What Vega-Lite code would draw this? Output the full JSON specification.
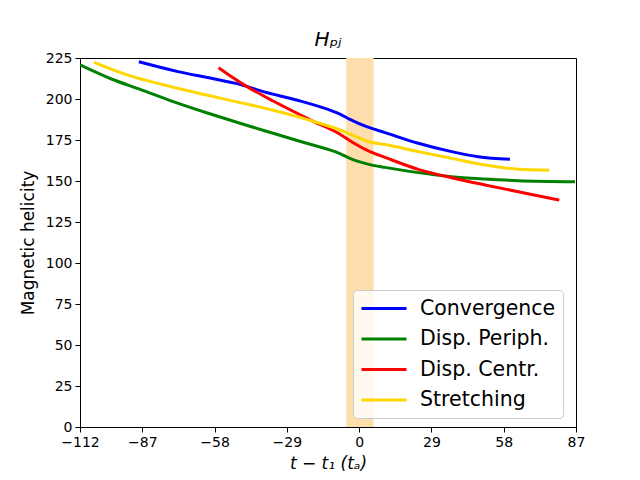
{
  "$schema": "https://vega.github.io/schema/vega-lite/v6.json",
  "width": 496,
  "height": 369,
  "autosize": "none",
  "padding": {"left": 80, "top": 58, "right": 64, "bottom": 53},
  "background": "white",
  "title": {
    "text": "Hₚⱼ",
    "font": "DejaVu Sans",
    "fontStyle": "italic",
    "fontWeight": "normal",
    "fontSize": 20,
    "color": "black",
    "anchor": "middle",
    "offset": 1
  },
  "datasets": {
    "band": [{"t0": -5.2, "t1": 5.8}],
    "curves": [
      {"series": "Convergence", "t": -88.4, "h": 222.7},
      {"series": "Convergence", "t": -72.7, "h": 216.7},
      {"series": "Convergence", "t": -59.3, "h": 212.6},
      {"series": "Convergence", "t": -48.6, "h": 209.2},
      {"series": "Convergence", "t": -38.5, "h": 204.5},
      {"series": "Convergence", "t": -25.1, "h": 199.4},
      {"series": "Convergence", "t": -11.7, "h": 193.2},
      {"series": "Convergence", "t": -7.7, "h": 190.8},
      {"series": "Convergence", "t": -3.7, "h": 187.6},
      {"series": "Convergence", "t": 3, "h": 183.1},
      {"series": "Convergence", "t": 10.4, "h": 179.5},
      {"series": "Convergence", "t": 23.7, "h": 173},
      {"series": "Convergence", "t": 37.1, "h": 167.9},
      {"series": "Convergence", "t": 47.8, "h": 164.8},
      {"series": "Convergence", "t": 60.5, "h": 163.2},
      {"series": "Disp. Periph.", "t": -112, "h": 220.8},
      {"series": "Disp. Periph.", "t": -99.4, "h": 212.2},
      {"series": "Disp. Periph.", "t": -87.9, "h": 205.9},
      {"series": "Disp. Periph.", "t": -74.6, "h": 198.4},
      {"series": "Disp. Periph.", "t": -61.2, "h": 191.6},
      {"series": "Disp. Periph.", "t": -47.8, "h": 185.2},
      {"series": "Disp. Periph.", "t": -34.5, "h": 179.1},
      {"series": "Disp. Periph.", "t": -21.1, "h": 173},
      {"series": "Disp. Periph.", "t": -7.7, "h": 166.7},
      {"series": "Disp. Periph.", "t": -3.7, "h": 163.8},
      {"series": "Disp. Periph.", "t": 4.3, "h": 160},
      {"series": "Disp. Periph.", "t": 10.4, "h": 158.3},
      {"series": "Disp. Periph.", "t": 23.7, "h": 155.1},
      {"series": "Disp. Periph.", "t": 37.1, "h": 152.6},
      {"series": "Disp. Periph.", "t": 50.5, "h": 151.2},
      {"series": "Disp. Periph.", "t": 63.8, "h": 150.2},
      {"series": "Disp. Periph.", "t": 86.6, "h": 149.6},
      {"series": "Disp. Centr.", "t": -56.4, "h": 219.1},
      {"series": "Disp. Centr.", "t": -51.8, "h": 214.2},
      {"series": "Disp. Centr.", "t": -43.8, "h": 206.5},
      {"series": "Disp. Centr.", "t": -34.5, "h": 198.8},
      {"series": "Disp. Centr.", "t": -18.4, "h": 186.4},
      {"series": "Disp. Centr.", "t": -7.7, "h": 178.5},
      {"series": "Disp. Centr.", "t": -2.4, "h": 173.3},
      {"series": "Disp. Centr.", "t": 4.3, "h": 167.9},
      {"series": "Disp. Centr.", "t": 10.4, "h": 164.4},
      {"series": "Disp. Centr.", "t": 23.7, "h": 157.1},
      {"series": "Disp. Centr.", "t": 37.1, "h": 152},
      {"series": "Disp. Centr.", "t": 50.5, "h": 147.6},
      {"series": "Disp. Centr.", "t": 63.8, "h": 143.5},
      {"series": "Disp. Centr.", "t": 80.3, "h": 138.4},
      {"series": "Stretching", "t": -106.4, "h": 222.4},
      {"series": "Stretching", "t": -92.8, "h": 214.6},
      {"series": "Stretching", "t": -79.4, "h": 209},
      {"series": "Stretching", "t": -61.2, "h": 202.4},
      {"series": "Stretching", "t": -47.8, "h": 197.8},
      {"series": "Stretching", "t": -34.5, "h": 193.1},
      {"series": "Stretching", "t": -21.1, "h": 187.6},
      {"series": "Stretching", "t": -7.7, "h": 181.1},
      {"series": "Stretching", "t": -2, "h": 177.5},
      {"series": "Stretching", "t": 4.3, "h": 173.8},
      {"series": "Stretching", "t": 10.4, "h": 172.2},
      {"series": "Stretching", "t": 23.7, "h": 167.9},
      {"series": "Stretching", "t": 37.1, "h": 163.8},
      {"series": "Stretching", "t": 50.5, "h": 159.8},
      {"series": "Stretching", "t": 63.8, "h": 157.1},
      {"series": "Stretching", "t": 76.3, "h": 156.5}
    ]
  },
  "layer": [
    {
      "data": {"name": "band"},
      "mark": {"type": "rect", "color": "#ffdead", "opacity": 1},
      "encoding": {
        "x": {"field": "t0", "type": "quantitative", "scale": {"domain": [-112, 87], "nice": false, "zero": false}},
        "x2": {"field": "t1"}
      }
    },
    {
      "data": {"name": "curves"},
      "mark": {"type": "line", "strokeWidth": 3, "clip": true, "interpolate": "monotone"},
      "encoding": {
        "x": {
          "field": "t",
          "type": "quantitative",
          "scale": {"domain": [-112, 87], "nice": false, "zero": false},
          "axis": {
            "title": "t − t₁ (tₐ)",
            "values": [-112, -87, -58, -29, 0, 29, 58, 87],
            "titleFontStyle": "italic",
            "titlePadding": 6
          }
        },
        "y": {
          "field": "h",
          "type": "quantitative",
          "scale": {"domain": [0, 225], "nice": false},
          "axis": {
            "title": "Magnetic helicity",
            "values": [0, 25, 50, 75, 100, 125, 150, 175, 200, 225],
            "titlePadding": 8
          }
        },
        "color": {
          "field": "series",
          "type": "nominal",
          "scale": {
            "domain": ["Convergence", "Disp. Periph.", "Disp. Centr.", "Stretching"],
            "range": ["#0000ff", "#008000", "#ff0000", "#ffd700"]
          },
          "legend": {"title": null}
        },
        "order": {"field": "t", "type": "quantitative"}
      }
    }
  ],
  "config": {
    "font": "DejaVu Sans",
    "view": {"stroke": "black", "strokeWidth": 1},
    "axis": {
      "grid": false,
      "domainColor": "black",
      "tickColor": "black",
      "tickSize": 5,
      "labelColor": "black",
      "labelFont": "DejaVu Sans",
      "labelFontSize": 14,
      "labelPadding": 3,
      "titleColor": "black",
      "titleFont": "DejaVu Sans",
      "titleFontSize": 17,
      "titleFontWeight": "normal",
      "labelFlush": false,
      "labelOverlap": false
    },
    "legend": {
      "orient": "none",
      "legendX": 273,
      "legendY": 232,
      "fillColor": "rgba(255,255,255,0.8)",
      "strokeColor": "#cccccc",
      "cornerRadius": 4,
      "padding": 7,
      "labelFont": "DejaVu Sans",
      "labelFontSize": 20.5,
      "labelColor": "black",
      "labelOffset": 37,
      "symbolType": "M-1,0H3.5",
      "symbolSize": 400,
      "symbolStrokeWidth": 3,
      "rowPadding": 8.5,
      "labelLimit": 300
    }
  }
}
